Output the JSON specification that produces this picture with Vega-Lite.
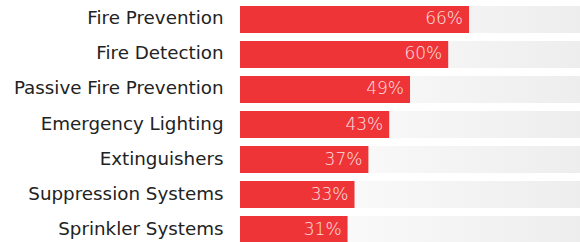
{
  "$schema": "https://vega.github.io/schema/vega-lite/v6.json",
  "width": 347,
  "height": 249,
  "autosize": {"type": "none"},
  "padding": {"left": 240, "top": 0, "right": 0, "bottom": 0},
  "background": "#ffffff",
  "config": {"view": {"stroke": null}, "font": "DejaVu Sans"},
  "data": {
    "values": [
      {"category": "Fire Prevention", "pct": 66, "full": 100, "label": "66%"},
      {"category": "Fire Detection", "pct": 60, "full": 100, "label": "60%"},
      {"category": "Passive Fire Prevention", "pct": 49, "full": 100, "label": "49%"},
      {"category": "Emergency Lighting", "pct": 43, "full": 100, "label": "43%"},
      {"category": "Extinguishers", "pct": 37, "full": 100, "label": "37%"},
      {"category": "Suppression Systems", "pct": 33, "full": 100, "label": "33%"},
      {"category": "Sprinkler Systems", "pct": 31, "full": 100, "label": "31%"}
    ]
  },
  "encoding": {
    "y": {
      "field": "category",
      "type": "nominal",
      "sort": null,
      "scale": {"paddingInner": 0.2286, "paddingOuter": 0.1714},
      "axis": {
        "title": null,
        "ticks": false,
        "domain": false,
        "labelFontSize": 18.3,
        "labelColor": "#222222",
        "labelPadding": 17,
        "labelLimit": 300,
        "labelFont": "DejaVu Sans"
      }
    }
  },
  "layer": [
    {
      "mark": {
        "type": "bar",
        "color": {
          "gradient": "linear",
          "x1": 0, "y1": 0, "x2": 1, "y2": 0,
          "stops": [
            {"offset": 0, "color": "#ffffff"},
            {"offset": 1, "color": "#ededed"}
          ]
        }
      },
      "encoding": {
        "x": {"field": "full", "type": "quantitative", "scale": {"domain": [0, 100]}, "axis": null}
      }
    },
    {
      "mark": {"type": "bar", "color": "#ee3436"},
      "encoding": {
        "x": {"field": "pct", "type": "quantitative"}
      }
    },
    {
      "mark": {"type": "text", "align": "right", "dx": -6, "color": "#ffffff", "opacity": 0.85, "fontSize": 17, "fontWeight": 200, "font": "DejaVu Sans"},
      "encoding": {
        "x": {"field": "pct", "type": "quantitative"},
        "text": {"field": "label", "type": "nominal"}
      }
    }
  ]
}
